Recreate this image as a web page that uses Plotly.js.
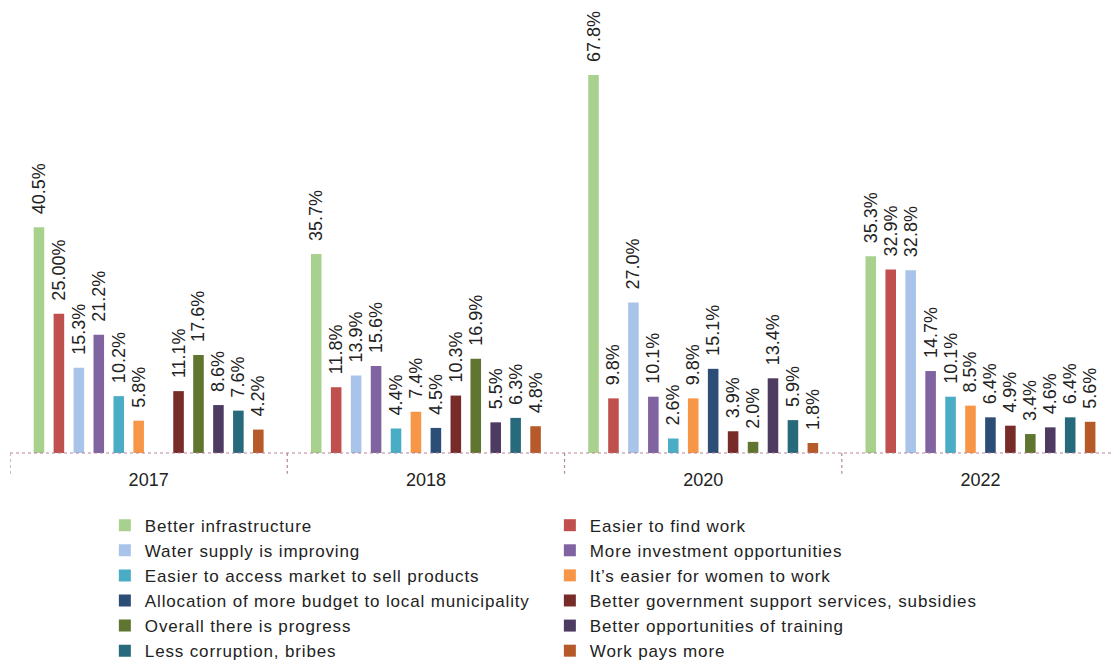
<!DOCTYPE html>
<html>
<head>
<meta charset="utf-8">
<script src="https://cdn.plot.ly/plotly-3.0.1.min.js"></script>
<style>
html,body{margin:0;padding:0;background:#fff;}
#chart{width:1113px;height:664px;}
#chart .legend .legendtext{letter-spacing:0.85px;}
</style>
</head>
<body>
<div id="chart"></div>
<script>
// Categories (survey years)
const years = ['2017', '2018', '2020', '2022'];

// Series values (%), one array per answer, in year order
const betterInfrastructure   = [40.5, 35.7, 67.8, 35.3];
const easierToFindWork       = [25.00, 11.8, 9.8, 32.9];
const waterSupplyImproving   = [15.3, 13.9, 27.0, 32.8];
const moreInvestment         = [21.2, 15.6, 10.1, 14.7];
const easierMarketAccess     = [10.2, 4.4, 2.6, 10.1];
const easierForWomen         = [5.8, 7.4, 9.8, 8.5];
const moreBudgetMunicipality = [null, 4.5, 15.1, 6.4];
const betterGovSupport       = [11.1, 10.3, 3.9, 4.9];
const overallProgress        = [17.6, 16.9, 2.0, 3.4];
const betterTraining         = [8.6, 5.5, 13.4, 4.6];
const lessCorruption         = [7.6, 6.3, 5.9, 6.4];
const workPaysMore           = [4.2, 4.8, 1.8, 5.6];

// Label for "Easier to find work" as printed in the source
const easierToFindWorkLabels = ['25.00%', '11.8%', '9.8%', '32.9%'];

const seriesNames = [
  'Better infrastructure', 'Easier to find work',
  'Water supply is improving', 'More investment opportunities',
  'Easier to access market to sell products', 'It\u2019s easier for women to work',
  'Allocation of more budget to local municipality', 'Better government support services, subsidies',
  'Overall there is progress', 'Better opportunities of training',
  'Less corruption, bribes', 'Work pays more'
];
const seriesValues = [
  betterInfrastructure, easierToFindWork,
  waterSupplyImproving, moreInvestment,
  easierMarketAccess, easierForWomen,
  moreBudgetMunicipality, betterGovSupport,
  overallProgress, betterTraining,
  lessCorruption, workPaysMore
];
const seriesColors = [
  '#a9d18e', '#c0504d',
  '#a9c4e9', '#8064a2',
  '#4bacc6', '#f79646',
  '#2c4d75', '#772c2a',
  '#5f7530', '#4d3b62',
  '#276a7c', '#b65a2a'
];

const FONT = 'Liberation Sans, Arial, sans-serif';
const TXT = '#222222';

const traces = seriesNames.map((name, i) => {
  const vals = seriesValues[i];
  const labels = (i === 1) ? easierToFindWorkLabels
    : vals.map(v => v === null ? '' : v.toFixed(1) + '%');
  return {
    type: 'bar',
    name: name,
    x: years,
    y: vals,
    text: labels.map(s => s ? '\u00a0\u00a0' + s : ''),
    textposition: 'outside',
    textangle: -90,
    constraintext: 'none',
    cliponaxis: false,
    textfont: {family: FONT, size: 18, color: TXT},
    marker: {color: seriesColors[i]},
    hoverinfo: 'name+y'
  };
});

const axisColor = '#b5839a';
const shapes = [{
  type: 'line', xref: 'paper', yref: 'paper',
  x0: 0, x1: 1, y0: 0, y1: 0,
  line: {color: axisColor, width: 1.2, dash: 'dot'}
}];
[-0.5, 0.5, 1.5, 2.5].forEach(b => shapes.push({
  type: 'line', xref: 'x', yref: 'paper',
  x0: b, x1: b, y0: 0, y1: -0.046,
  line: {color: axisColor, width: 1.2, dash: 'dot'}
}));

const layout = {
  width: 1113, height: 664,
  margin: {l: 10, r: 0, t: 0, b: 211, autoexpand: false},
  paper_bgcolor: '#ffffff', plot_bgcolor: '#ffffff',
  barmode: 'group',
  bargap: 0.137,
  bargroupgap: 0.47,
  showlegend: true,
  font: {family: FONT, color: TXT},
  xaxis: {
    type: 'category',
    range: [-0.5, 3.478],
    showline: false, showgrid: false, zeroline: false,
    ticks: '',
    ticklabelstandoff: 14,
    tickfont: {family: FONT, size: 18, color: TXT},
    fixedrange: true
  },
  yaxis: {
    range: [0, 81.26],
    visible: false,
    showgrid: false, zeroline: false,
    fixedrange: true
  },
  legend: {
    orientation: 'h',
    x: 0.086, xanchor: 'left',
    y: -0.1206, yanchor: 'top',
    entrywidth: 400,
    entrywidthmode: 'pixels',
    traceorder: 'normal',
    font: {family: FONT, size: 17, color: TXT},
    bgcolor: 'rgba(0,0,0,0)'
  },
  shapes: shapes
};

Plotly.newPlot('chart', traces, layout, {displayModeBar: false, staticPlot: true});
</script>
</body>
</html>
